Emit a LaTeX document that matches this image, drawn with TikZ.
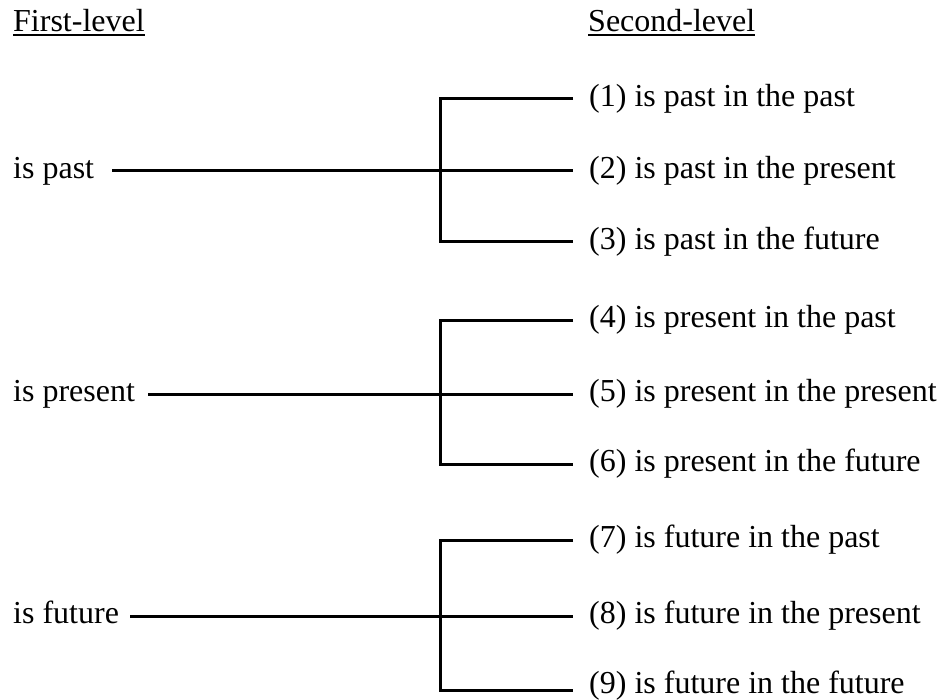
\documentclass[tikz,border=0pt]{standalone}
\usepackage{fontspec}
\setmainfont{Liberation Serif}
\begin{document}
\begin{tikzpicture}[x=1pt,y=-1pt,
  every node/.style={font=\fontsize{32}{38}\selectfont},
  lefttxt/.style={anchor=base west, inner sep=0pt},
  righttxt/.style={anchor=base west, inner xsep=16pt, inner ysep=0pt},
  head/.style={anchor=base west, inner sep=0pt},
  conn/.style={line width=3pt},
  uline/.style={line width=2pt}]
\useasboundingbox (0,0) rectangle (941,700);
% headers
\node[head] (h1) at (13,32) {First-level};
\node[head] (h2) at (588,32) {Second-level};
\draw[uline] ([yshift=-3.2pt]h1.base west) -- ([yshift=-3.2pt]h1.base east);
\draw[uline] ([yshift=-3.2pt]h2.base west) -- ([yshift=-3.2pt]h2.base east);
% group 1
\node[lefttxt] (l1) at (13,178.5) {is past};
\node[righttxt] (r1) at (573,106.5) {(1) is past in the past};
\node[righttxt] (r2) at (573,178.5) {(2) is past in the present};
\node[righttxt] (r3) at (573,249.5) {(3) is past in the future};
\coordinate (j1) at (440,171);
\draw[conn] ([xshift=18pt,yshift=7.5pt]l1.base east) -- ([yshift=7.5pt]r2.base west);
\draw[conn] ([yshift=7.5pt]r1.base west) -- ([yshift=7.5pt]r1.base west -| j1)
  -- ([yshift=7.5pt]r3.base west -| j1) -- ([yshift=7.5pt]r3.base west);
% group 2
\node[lefttxt] (l2) at (13,401.5) {is present};
\node[righttxt] (r4) at (573,327.5) {(4) is present in the past};
\node[righttxt] (r5) at (573,401.5) {(5) is present in the present};
\node[righttxt] (r6) at (573,471.5) {(6) is present in the future};
\coordinate (j2) at (440,394);
\draw[conn] ([xshift=13pt,yshift=7.5pt]l2.base east) -- ([yshift=7.5pt]r5.base west);
\draw[conn] ([yshift=7.5pt]r4.base west) -- ([yshift=7.5pt]r4.base west -| j2)
  -- ([yshift=7.5pt]r6.base west -| j2) -- ([yshift=7.5pt]r6.base west);
% group 3
\node[lefttxt] (l3) at (13,623.5) {is future};
\node[righttxt] (r7) at (573,547.5) {(7) is future in the past};
\node[righttxt] (r8) at (573,623.5) {(8) is future in the present};
\node[righttxt] (r9) at (573,693.5) {(9) is future in the future};
\coordinate (j3) at (440,616);
\draw[conn] ([xshift=11pt,yshift=7.5pt]l3.base east) -- ([yshift=7.5pt]r8.base west);
\draw[conn] ([yshift=7.5pt]r7.base west) -- ([yshift=7.5pt]r7.base west -| j3)
  -- ([yshift=3pt]r9.base west -| j3) -- ([yshift=3pt]r9.base west);
\end{tikzpicture}
\end{document}
